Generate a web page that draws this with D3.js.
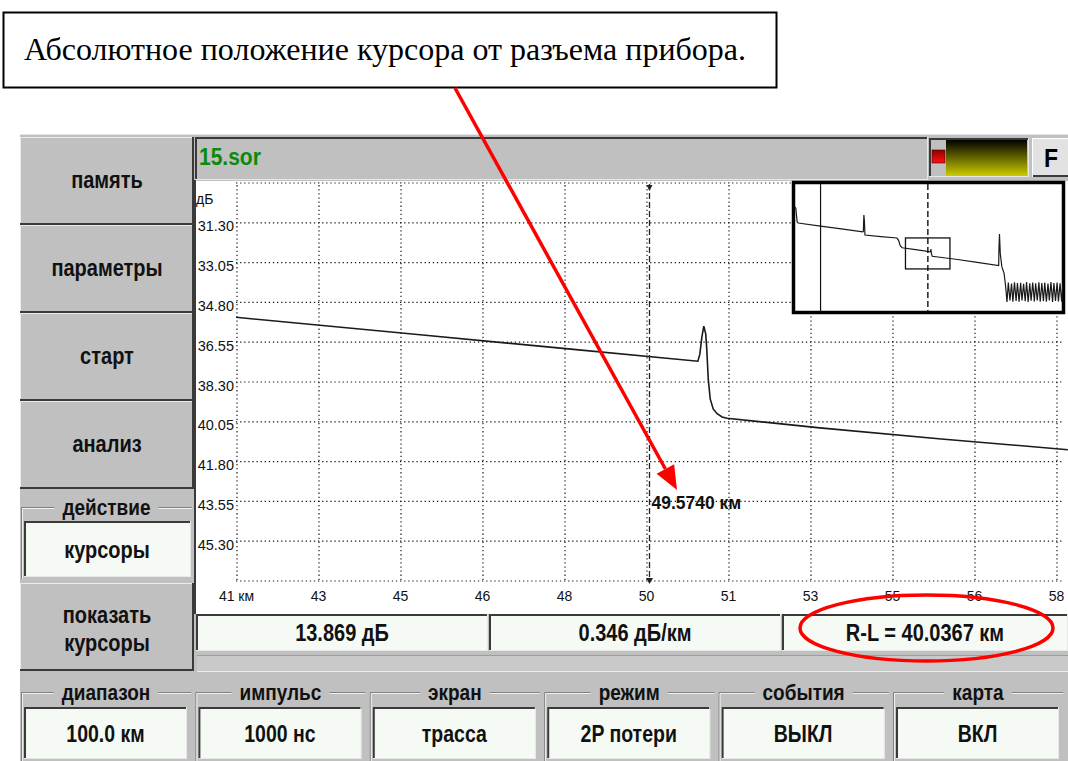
<!DOCTYPE html>
<html><head><meta charset="utf-8">
<script src="https://cdn.jsdelivr.net/npm/d3@7"></script>
<style>body{margin:0;background:#fff;overflow:hidden}svg{display:block}</style>
</head><body>
<svg id="c" width="1068" height="761"></svg>
<script>
// ---------------- DATA ----------------
const annotationText = "Абсолютное положение курсора от разъема прибора.";
const fileName = "15.sor";
const yUnit = "дБ";
const xTickValues = [41.22, 42.88, 44.54, 46.20, 47.86, 49.52, 51.18, 52.84, 54.50, 56.16, 57.82];
const xTickLabels = ["41 км", "43", "45", "46", "48", "50", "51", "53", "55", "56", "58"];
const yTickValues = [31.30, 33.05, 34.80, 36.55, 38.30, 40.05, 41.80, 43.55, 45.30];
const yTickLabels = ["31.30", "33.05", "34.80", "36.55", "38.30", "40.05", "41.80", "43.55", "45.30"];
const xDomain = [41.22, 57.82];
const yDomain = [29.55, 47.05];

// main trace (km, dB)
const traceKm = [41.22, 45.00, 48.00, 50.57, 50.61, 50.65, 50.69, 50.73, 50.75, 50.78, 50.82, 50.88, 50.96, 51.06, 51.16, 53.04, 55.50, 58.06];
const traceDb = [35.50, 36.28, 36.90, 37.43, 37.12, 36.38, 35.89, 36.24, 36.90, 38.21, 39.09, 39.53, 39.74, 39.88, 39.94, 40.36, 40.85, 41.32];

// overview (inset) trace, full 100 km
const insetKm = [0, 0.3, 0.8, 1.2, 9.5, 18.0, 25.3, 25.5, 25.7, 25.9, 26.1, 32.0, 38.0, 38.6, 39.3, 40.0, 45.0, 50.6, 50.7, 50.9, 51.2, 60.0, 68.0, 76.0, 76.1, 76.3, 76.6, 77.2, 78.0, 78.6,
  79.1, 79.6, 80.2, 80.8, 81.3, 81.9, 82.5, 83.0, 83.6, 84.2, 84.7, 85.3, 85.9, 86.4, 87.0, 87.6, 88.1, 88.7, 89.3, 89.8,
  90.4, 91.0, 91.5, 92.1, 92.7, 93.2, 93.8, 94.4, 94.9, 95.5, 96.1, 96.6, 97.2, 97.8, 98.3, 98.9, 99.5, 100.0];
const insetDb = [12.1, 12.8, 20.5, 21.1, 22.9, 24.6, 26.1, 25.9, 16.6, 20.0, 27.9, 28.8, 29.6, 30.8, 34.0, 35.1, 36.1, 37.4, 35.9, 38.3, 39.9, 41.6, 43.4, 45.2, 36.0, 27.3, 38.5, 45.9, 49.4, 57.0,
  65.7, 54.8, 64.9, 55.3, 65.5, 54.6, 65.1, 55.0, 65.6, 54.9, 64.8, 55.4, 65.3, 54.5, 65.7, 55.1, 65.0, 54.7, 65.4, 55.2,
  64.9, 54.6, 65.6, 55.0, 65.2, 54.8, 65.5, 55.3, 64.8, 54.5, 65.7, 55.0, 65.1, 54.7, 65.4, 55.1, 65.6, 54.9];
const insetXDomain = [0, 100];
const insetYDomain = [-2.6, 72.5];

const cursorR = 49.5740;
const cursorL = 9.5373;
const cursorLabel = "49.5740 км";
const statusTexts = ["13.869 дБ", "0.346 дБ/км", "R-L = 40.0367 км"];
const leftButtons = ["память", "параметры", "старт", "анализ"];
const actionLabel = "действие";
const actionValue = "курсоры";
const showButton = ["показать", "курсоры"];
const bottomLabels = ["диапазон", "импульс", "экран", "режим", "события", "карта"];
const bottomValues = ["100.0 км", "1000 нс", "трасса", "2P потери", "ВЫКЛ", "ВКЛ"];

// ---------------- DRAW ----------------
const svg = d3.select("#c");
const UI = "'Liberation Sans', Arial, sans-serif";
const GRAY = "#c0c0c0", DARK = "#3a3a3a", LIGHT = "#ececec", FIELD = "#f5faf5";
const STRETCH = 1.2;

const defs = svg.append("defs");
const g1 = defs.append("linearGradient").attr("id", "yel").attr("x1", 0).attr("y1", 0).attr("x2", 0).attr("y2", 1);
g1.append("stop").attr("offset", "0%").attr("stop-color", "#000");
g1.append("stop").attr("offset", "100%").attr("stop-color", "#cccc00");
const g2 = defs.append("linearGradient").attr("id", "red").attr("x1", 0).attr("y1", 0).attr("x2", 0).attr("y2", 1);
g2.append("stop").attr("offset", "0%").attr("stop-color", "#900000");
g2.append("stop").attr("offset", "100%").attr("stop-color", "#ff1010");
defs.append("clipPath").attr("id", "plotClip").append("rect").attr("x", 236).attr("y", 181).attr("width", 832).attr("height", 420);
defs.append("clipPath").attr("id", "insetClip").append("rect").attr("x", 795).attr("y", 184).attr("width", 268).attr("height", 128);

// device background
svg.append("rect").attr("x", 20).attr("y", 134).attr("width", 1048).attr("height", 627).attr("fill", GRAY);
svg.append("line").attr("x1", 20).attr("y1", 134.5).attr("x2", 1068).attr("y2", 134.5).attr("stroke", "#e4e4e4");

function raised(x0, y0, w, h) {
  svg.append("rect").attr("x", x0).attr("y", y0).attr("width", w).attr("height", h).attr("fill", GRAY);
  svg.append("path").attr("d", `M${x0 + .5},${y0 + h}V${y0 + .5}H${x0 + w}`).attr("stroke", LIGHT).attr("fill", "none");
  svg.append("path").attr("d", `M${x0},${y0 + h - 1}H${x0 + w - 1}V${y0}`).attr("stroke", DARK).attr("stroke-width", 2).attr("fill", "none");
}
function sunken(x0, y0, w, h, fill) {
  svg.append("rect").attr("x", x0).attr("y", y0).attr("width", w).attr("height", h).attr("fill", fill);
  svg.append("path").attr("d", `M${x0 + 1},${y0 + h}V${y0 + 1}H${x0 + w}`).attr("stroke", DARK).attr("stroke-width", 2).attr("fill", "none");
  svg.append("path").attr("d", `M${x0},${y0 + h - .5}H${x0 + w - .5}V${y0}`).attr("stroke", "#e8e8e8").attr("fill", "none");
}
function label(txt, cx, cy, size, opts = {}) {
  return svg.append("text").attr("transform", `translate(${cx},${cy}) scale(1,${opts.stretch || STRETCH})`)
    .attr("text-anchor", opts.anchor || "middle")
    .attr("dominant-baseline", "central").attr("font-family", UI).attr("font-size", size)
    .attr("font-weight", opts.weight || "bold").attr("fill", opts.fill || "#111").text(txt);
}
function groupFrame(x0, x1, yTop, yBot, txt) {
  svg.append("path").attr("d", `M${x0 + .5},${yBot}V${yTop + .5}H${x1}`).attr("stroke", "#808080").attr("fill", "none");
  svg.append("path").attr("d", `M${x0 + 1.5},${yBot}V${yTop + 1.5}H${x1}`).attr("stroke", "#f0f0f0").attr("fill", "none");
  const bgr = svg.append("rect").attr("fill", GRAY);
  const t = label(txt, (x0 + x1) / 2, yTop, 19);
  const bb = t.node().getBBox();
  bgr.attr("x", (x0 + x1) / 2 - bb.width / 2 - 8).attr("y", yTop - 10).attr("width", bb.width + 16).attr("height", 20);
}

// left buttons
const btnY = [[137, 88], [225, 88], [313, 88], [401, 88]];
leftButtons.forEach((b, i) => {
  raised(20, btnY[i][0], 174, btnY[i][1]);
  label(b, 107, btnY[i][0] + btnY[i][1] / 2 - 1, 20);
});
// action group
groupFrame(21, 192, 507, 579, actionLabel);
sunken(24, 521, 167, 56, FIELD);
label(actionValue, 107, 550, 20);
// show cursors button
raised(20, 583, 174, 88);
label(showButton[0], 107, 615, 20);
label(showButton[1], 107, 643, 20);

// top bar
sunken(195, 137, 733, 43, GRAY);
label(fileName, 199, 157, 21, {anchor: "start", fill: "#0b8a0b", stretch: 1.15});
// level indicator
sunken(929, 138, 100, 39, GRAY);
svg.append("rect").attr("x", 932).attr("y", 150).attr("width", 13).attr("height", 13).attr("fill", "url(#red)").attr("stroke", "#400").attr("stroke-width", .6);
svg.append("rect").attr("x", 946).attr("y", 140).attr("width", 81).attr("height", 36).attr("fill", "url(#yel)");
// F button
svg.append("rect").attr("x", 1032).attr("y", 138).attr("width", 36).attr("height", 39).attr("fill", "#e2e2e2");
svg.append("path").attr("d", "M1032.5,177V138.5H1068").attr("stroke", "#fff").attr("fill", "none");
svg.append("path").attr("d", "M1033,176H1068").attr("stroke", DARK).attr("stroke-width", 2);
label("F", 1051, 158, 23, {fill: "#000", stretch: 1.1});

// plot area
svg.append("rect").attr("x", 196).attr("y", 181).attr("width", 872).attr("height", 433).attr("fill", "#fff");
svg.append("line").attr("x1", 195).attr("y1", 180).attr("x2", 195).attr("y2", 614).attr("stroke", DARK).attr("stroke-width", 2);

const x = d3.scaleLinear().domain(xDomain).range([236, 1056]);
const y = d3.scaleLinear().domain(yDomain).range([182, 580]);

const yGrid = [yDomain[0], ...yTickValues, yDomain[1]];
const gridV = svg.append("g").attr("transform", "translate(0.5,580)")
  .call(d3.axisBottom(x).tickValues(xTickValues).tickSize(-(580 - 182)).tickFormat(""));
const gridH = svg.append("g").attr("transform", "translate(236,0.5)")
  .call(d3.axisLeft(y).tickValues(yGrid).tickSize(-826).tickFormat(""));
[gridV, gridH].forEach(g => {
  g.select(".domain").remove();
  g.selectAll(".tick line").attr("stroke", "#1a1a1a").attr("stroke-dasharray", "1.3,2.8").attr("stroke-width", 1.2);
});

// axis labels
const xAx = svg.append("g").attr("transform", "translate(0,597)")
  .call(d3.axisBottom(x).tickValues(xTickValues).tickSize(0).tickPadding(0).tickFormat((d, i) => xTickLabels[i]));
xAx.select(".domain").remove();
xAx.selectAll("text").attr("font-family", UI).attr("font-size", 14).attr("fill", "#111").attr("dy", "0.3em");
const yAx = svg.append("g").attr("transform", "translate(234,0)")
  .call(d3.axisLeft(y).tickValues(yTickValues).tickSize(0).tickPadding(0).tickFormat((d, i) => yTickLabels[i]));
yAx.select(".domain").remove();
yAx.selectAll("text").attr("font-family", UI).attr("font-size", 14.5).attr("fill", "#111").attr("dy", "0.62em");
svg.append("text").attr("x", 196).attr("y", 204).attr("font-family", UI).attr("font-size", 14).attr("fill", "#111").text(yUnit);

// trace
const line = d3.line().x(d => x(d[0])).y(d => y(d[1]));
svg.append("path").attr("clip-path", "url(#plotClip)").attr("d", line(traceKm.map((k, i) => [k, traceDb[i]])))
  .attr("fill", "none").attr("stroke", "#1a1a1a").attr("stroke-width", 1.6);

// cursor
const cx = Math.round(x(cursorR)) + 0.5;
svg.append("line").attr("x1", cx).attr("x2", cx).attr("y1", 184).attr("y2", 580).attr("stroke", "#222").attr("stroke-width", 1.3).attr("stroke-dasharray", "6,3");
svg.append("path").attr("d", `M${cx - 3},${185}L${cx + 3},${185}L${cx},${191}Z`).attr("fill", "#222");
svg.append("path").attr("d", `M${cx - 3.5},${578}L${cx + 3.5},${578}L${cx},${584}Z`).attr("fill", "#222");
svg.append("text").attr("transform", `translate(${cx + 2},509) scale(1,1.1)`).attr("font-family", UI).attr("font-size", 17.5).attr("font-weight", "bold").attr("fill", "#111").text(cursorLabel);

// inset overview
const ix = d3.scaleLinear().domain(insetXDomain).range([795, 1063]);
const iy = d3.scaleLinear().domain(insetYDomain).range([181, 314]);
svg.append("rect").attr("x", 793.5).attr("y", 182.5).attr("width", 270).attr("height", 130).attr("fill", "#fff").attr("stroke", "#000").attr("stroke-width", 3.5);
const ig = svg.append("g").attr("clip-path", "url(#insetClip)");
ig.append("path").attr("d", d3.line().x(d => ix(d[0])).y(d => iy(d[1]))(insetKm.map((k, i) => [k, insetDb[i]])))
  .attr("fill", "none").attr("stroke", "#1a1a1a").attr("stroke-width", 1.2);
ig.append("line").attr("x1", ix(cursorL)).attr("x2", ix(cursorL)).attr("y1", 184).attr("y2", 312).attr("stroke", "#111").attr("stroke-width", 1.2);
ig.append("line").attr("x1", ix(cursorR)).attr("x2", ix(cursorR)).attr("y1", 184).attr("y2", 312).attr("stroke", "#111").attr("stroke-width", 1.4).attr("stroke-dasharray", "6,3");
ig.append("rect").attr("x", ix(xDomain[0])).attr("y", iy(yDomain[0])).attr("width", ix(xDomain[1]) - ix(xDomain[0]))
  .attr("height", iy(yDomain[1]) - iy(yDomain[0])).attr("fill", "none").attr("stroke", "#111").attr("stroke-width", 1.3);

// status fields
const fields = [[196, 292], [489, 292], [782, 286]];
fields.forEach((f, i) => {
  sunken(f[0], 614, f[1], 37, FIELD);
  label(statusTexts[i], f[0] + f[1] / 2 + (i === 2 ? 0 : 0), 633, 20);
});
// light bar
svg.append("rect").attr("x", 197).attr("y", 655).attr("width", 871).attr("height", 16).attr("fill", "#c9c9c9");
svg.append("line").attr("x1", 197).attr("x2", 1068).attr("y1", 655.5).attr("y2", 655.5).attr("stroke", "#9c9c9c");
svg.append("line").attr("x1", 197).attr("x2", 1068).attr("y1", 671.5).attr("y2", 671.5).attr("stroke", "#ededed");

// bottom row
bottomLabels.forEach((b, i) => {
  const x0 = 21 + i * 174.4;
  groupFrame(x0, x0 + 170, 692, 761, b);
  sunken(x0 + 3, 707, 163, 52, FIELD);
  label(bottomValues[i], x0 + 84.5, 734, 19.5);
});

// annotation box
svg.append("rect").attr("x", 3.5).attr("y", 12.5).attr("width", 773).attr("height", 75).attr("fill", "#fff").attr("stroke", "#000").attr("stroke-width", 2);
svg.append("text").attr("x", 24).attr("y", 60).attr("font-family", "'Liberation Serif', 'Times New Roman', serif").attr("font-size", 32)
  .attr("fill", "#000").text(annotationText);

// red arrow
const a0 = [455, 88], tip = [677, 490];
const dx = tip[0] - a0[0], dy = tip[1] - a0[1], L = Math.hypot(dx, dy), ux = dx / L, uy = dy / L;
const hl = 24, hw = 10;
const bx = tip[0] - hl * ux, by = tip[1] - hl * uy;
svg.append("line").attr("x1", a0[0]).attr("y1", a0[1]).attr("x2", bx).attr("y2", by).attr("stroke", "#ff0000").attr("stroke-width", 3.5);
svg.append("path").attr("d", `M${tip[0]},${tip[1]}L${bx - hw * uy},${by + hw * ux}L${bx + hw * uy},${by - hw * ux}Z`).attr("fill", "#ff0000");

// red ellipse
svg.append("ellipse").attr("cx", 926.5).attr("cy", 628).attr("rx", 126.5).attr("ry", 33).attr("fill", "none").attr("stroke", "#ff0000").attr("stroke-width", 3.5);
</script>
</body></html>
